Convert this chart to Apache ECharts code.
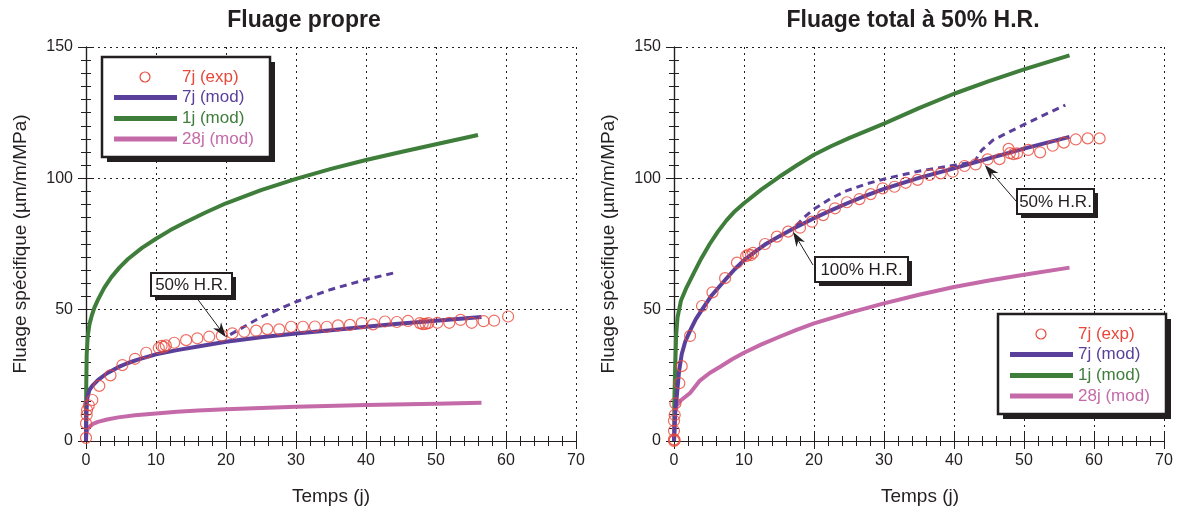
<!DOCTYPE html>
<html><head><meta charset="utf-8">
<script src="https://cdn.jsdelivr.net/npm/echarts@6/dist/echarts.min.js"></script>
<style>html,body{margin:0;padding:0;background:#fff}#c{width:1182px;height:512px}</style>
</head><body><div id="c"></div>
<script>
// ---- data ----
const panelTitles = ['Fluage propre', 'Fluage total à 50% H.R.'];
const xAxisName = 'Temps (j)';
const yAxisName = 'Fluage spécifique (µm/m/MPa)';
const seriesNames = ['7j (exp)', '7j (mod)', '1j (mod)', '28j (mod)'];
const xMin = 0, xMax = 70, xStep = 10;
const yMin = 0, yMax = 150, yStep = 50;

const leftExp7j = [[0,1.2],[0,6.7],[0.1,9.9],[0.15,11.8],[0.4,13.6],[0.9,15.6],[1.9,21],[3.5,25],[5.2,28.9],[7,31.3],[8.6,33.6],[10.4,35.4],[10.8,36.2],[11.1,35.8],[11.4,36.4],[12.6,37.4],[14.3,38.4],[15.9,39.1],[17.6,39.7],[19.4,40.1],[20.9,41],[22.6,41.6],[24.3,42],[25.9,42.6],[27.6,42.5],[29.3,43.5],[31,43.5],[32.7,43.6],[34.4,43.5],[36,44],[37.7,44.2],[39.4,44.9],[41,44.4],[42.7,45.5],[44.4,45.3],[46,45.7],[47.7,44.9],[48.1,44.5],[48.5,44.6],[48.9,44.9],[50.2,45],[51.9,45],[53.5,46.1],[55.1,45],[56.8,45.6],[58.3,45.8],[60.3,47.4]];
const leftMod7j = [[0,0],[0.05,10],[0.15,16],[0.5,19.5],[1,21.3],[1.7,23.2],[3,25.8],[4.6,28.1],[6,29.7],[7.4,31],[10,33],[13,34.6],[16,36],[20,37.8],[25,39.5],[30,40.9],[35,42.2],[40,43.5],[45,44.7],[50,45.8],[56.5,47.2]];
const leftMod7jHR50 = [[20.6,40.5],[25,47.2],[30,53],[35,57.7],[40,61.5],[44,64]];
const leftMod1j = [[0,0],[0.03,20],[0.1,33],[0.25,40],[0.5,44.5],[0.8,47.5],[1.2,50.8],[1.7,53.7],[2.6,58.3],[3.6,62.3],[4.8,66.1],[6,69.3],[8,73.5],[10,77],[12,80.2],[14,83],[17,86.9],[20,90.5],[25,95.5],[30,99.8],[35,103.6],[40,107],[45,110],[50,113],[56,116.5]];
const leftMod28j = [[0,0],[0.05,3],[0.3,5],[1,6.5],[1.7,7.3],[3,8.2],[4.6,9],[7,9.8],[10,10.5],[13,11.1],[16,11.6],[20,12.1],[25,12.6],[30,13],[40,13.7],[50,14.2],[56.5,14.6]];

const rightExp7j = [[0,0],[0,0.6],[0.1,0.3],[0,3.9],[0,7.7],[0.1,9.9],[0.2,14.3],[0.76,22],[1.1,28.5],[2.3,40],[4,51.4],[5.5,56.6],[7.3,62],[9,67.9],[10.3,70.4],[10.6,71],[11,70.8],[11.3,71.6],[13,75],[14.7,77.8],[16.3,79.7],[18,81.2],[19.7,83.5],[21.3,86],[23,88.6],[24.7,90.9],[26.5,92.1],[28.1,94],[29.8,96.2],[31.5,96.8],[33.1,98.3],[34.8,99.4],[36.5,101.3],[38.1,101.9],[39.8,102.5],[41.5,104.7],[43.1,105.3],[44.8,107.2],[46.5,107.3],[47.8,111.2],[48,109.6],[48.5,109.2],[49,109.5],[50.6,110.8],[52.3,109.9],[54.1,112.4],[55.7,113.6],[57.4,114.8],[59.1,115.2],[60.8,115.2]];
const rightMod7j = [[0,0],[0.1,6],[0.2,12],[0.4,17],[0.7,26],[1.1,33],[1.6,37.8],[2.3,42],[3.1,46.3],[4,50],[5.4,55.5],[7.3,61.3],[8.6,65.2],[10,68.8],[11.5,71.9],[13,74.8],[15,77.9],[17,80.8],[20,84.8],[22.5,87.9],[25,90.8],[27.5,93.5],[30,96],[35,100.2],[40,103.8],[45,107.6],[50,111.3],[56.5,115.8]];
const rightMod7jHR = [[17.5,82],[18.5,85],[20,88.3],[22.3,92.2],[24.7,95.3],[27.5,97.9],[30.4,100],[35.1,102.8],[40.9,105.4],[43,106.4],[43.5,109],[44,110.8],[45.6,114.6],[50.4,121],[55.9,127.9]];
const rightMod1j = [[0,0],[0.05,15],[0.14,25],[0.3,40],[0.5,47],[1,53.5],[1.8,58.5],[2.8,63.8],[3.9,69.5],[5.1,75],[6.3,79.8],[7.5,84],[8.7,87.5],[10,90.5],[12.5,95.8],[15,100.5],[17.5,104.9],[20,109],[22.5,112.3],[25,115.3],[27.5,118.1],[30,120.8],[35,126.7],[40,132.2],[45,137],[50,141.5],[56.5,146.8]];
const rightMod28j = [[0,0],[0.05,5],[0.15,11],[0.4,13.5],[1,15.5],[2.3,18.3],[3.7,23],[5.1,25.9],[6.6,28.3],[8.3,31.1],[10,33.6],[12.5,36.8],[15,39.6],[17.5,42.3],[20,44.8],[25,48.8],[30,52.4],[35,55.7],[40,58.6],[45,61.1],[50,63.3],[56.5,66]];

// annotations: label and the data point its arrow points at
const annotations = [
  {grid: 0, text: '50% H.R.',  tip: [20, 39.5]},
  {grid: 1, text: '100% H.R.', tip: [17, 79.7]},
  {grid: 1, text: '50% H.R.',  tip: [44.4, 105.1]}
];

// ---- styles ----
const FONT = '"Liberation Sans", Arial, Helvetica, sans-serif';
const DARK = '#231f20';
const C_RED = '#e8483b', C_BLUE = '#5a3f9b', C_GREEN = '#3f7d3b', C_PINK = '#c56aa8';
const seriesColors = [C_RED, C_BLUE, C_GREEN, C_PINK];

const grids = [
  {left: 86, top: 47, width: 490, height: 394},
  {left: 674, top: 47, width: 490, height: 394}
];

function xAx(gi, pos, main) {
  return {
    type: 'value', gridIndex: gi, position: pos, min: xMin, max: xMax, interval: xStep,
    axisLine: {show: true, lineStyle: {color: DARK, width: 1.2}},
    axisTick: {show: true, inside: true, length: 8, lineStyle: {color: DARK, width: 1}},
    minorTick: {show: true, splitNumber: 5, length: 5, lineStyle: {color: DARK, width: 1}},
    axisLabel: {show: main, margin: 12, fontSize: 16, color: DARK, fontFamily: FONT},
    splitLine: {show: main, lineStyle: {color: DARK, width: 1, type: [2, 4]}}
  };
}
function yAx(gi, pos, main) {
  return {
    type: 'value', gridIndex: gi, position: pos, min: yMin, max: yMax, interval: yStep,
    axisLine: {show: true, lineStyle: {color: DARK, width: 1.2}},
    axisTick: {show: true, inside: true, length: 8, lineStyle: {color: DARK, width: 1}},
    minorTick: {show: true, splitNumber: 10, length: 5, lineStyle: {color: DARK, width: 1}},
    axisLabel: {show: main, margin: 13, fontSize: 16, color: DARK, fontFamily: FONT},
    splitLine: {show: main, lineStyle: {color: DARK, width: 1, type: [2, 4]}}
  };
}

function lineSeries(name, data, gi, color, dashed) {
  return {
    name: name, type: 'line', data: data, xAxisIndex: gi * 2, yAxisIndex: gi * 2,
    showSymbol: false, smooth: false, silent: true,
    lineStyle: {color: color, width: dashed ? 3 : 4, type: dashed ? [7, 5] : 'solid', cap: 'butt', join: 'round'},
    itemStyle: {color: color}, z: 3
  };
}
function expSeries(name, data, gi) {
  return {
    name: name, type: 'scatter', data: data, xAxisIndex: gi * 2, yAxisIndex: gi * 2,
    symbol: 'circle', symbolSize: 11, silent: true,
    itemStyle: {color: 'rgba(0,0,0,0)', borderColor: C_RED, borderWidth: 1.2}, z: 4
  };
}

const chart = echarts.init(document.getElementById('c'), null, {renderer: 'canvas'});
chart.setOption({
  animation: false,
  backgroundColor: '#fff',
  grid: grids,
  xAxis: [xAx(0, 'bottom', true), xAx(0, 'top', false), xAx(1, 'bottom', true), xAx(1, 'top', false)],
  yAxis: [yAx(0, 'left', true), yAx(0, 'right', false), yAx(1, 'left', true), yAx(1, 'right', false)],
  series: [
    lineSeries(seriesNames[2], leftMod1j, 0, C_GREEN),
    lineSeries(seriesNames[3], leftMod28j, 0, C_PINK),
    lineSeries(seriesNames[1], leftMod7j, 0, C_BLUE),
    lineSeries(seriesNames[1] + ' HR', leftMod7jHR50, 0, C_BLUE, true),
    expSeries(seriesNames[0], leftExp7j, 0),
    lineSeries(seriesNames[2], rightMod1j, 1, C_GREEN),
    lineSeries(seriesNames[3], rightMod28j, 1, C_PINK),
    lineSeries(seriesNames[1], rightMod7j, 1, C_BLUE),
    lineSeries(seriesNames[1] + ' HR', rightMod7jHR, 1, C_BLUE, true),
    expSeries(seriesNames[0], rightExp7j, 1)
  ]
});

// ---- decorations: titles, axis names, legends, annotation boxes ----
const g = [];
function txt(x, y, s, opt) {
  g.push({type: 'text', x: x, y: y, z: 100, rotation: opt.rot || 0,
    style: {text: s, fill: opt.color || DARK, font: (opt.bold ? 'bold ' : '') + opt.size + 'px ' + FONT,
      textAlign: opt.align || 'center', textVerticalAlign: 'middle'}});
}
const titleCenters = [[304, 21], [913, 21]];
const xNameCenters = [[331, 497], [920, 497]];
const yNameCenters = [[21, 244], [609, 244]];
for (let i = 0; i < 2; i++) {
  txt(titleCenters[i][0], titleCenters[i][1], panelTitles[i], {size: 23, bold: true});
  txt(xNameCenters[i][0], xNameCenters[i][1], xAxisName, {size: 19});
  txt(yNameCenters[i][0], yNameCenters[i][1], yAxisName, {size: 19, rot: Math.PI / 2});
}

function shadowBox(x, y, w, h, off, lw) {
  g.push({type: 'rect', z: 90, shape: {x: x + off, y: y + off, width: w, height: h}, style: {fill: DARK}});
  g.push({type: 'rect', z: 91, shape: {x: x, y: y, width: w, height: h}, style: {fill: '#fff', stroke: DARK, lineWidth: lw}});
}
function legend(x, y) {
  shadowBox(x, y, 168, 100, 5, 2.5);
  const rows = [20, 40.5, 61.5, 82];
  for (let i = 0; i < 4; i++) {
    const ry = y + rows[i];
    if (i === 0) {
      g.push({type: 'circle', z: 95, shape: {cx: x + 43, cy: ry, r: 5}, style: {fill: 'none', stroke: seriesColors[0], lineWidth: 1.2}});
    } else {
      g.push({type: 'line', z: 95, shape: {x1: x + 12, y1: ry, x2: x + 75, y2: ry}, style: {stroke: seriesColors[i], lineWidth: 5}});
    }
    txt(x + 80, ry, seriesNames[i], {size: 17, color: seriesColors[i], align: 'left'});
  }
}
legend(102, 57);
legend(998, 314);

const annBoxes = [
  {x: 151, y: 273, w: 81, h: 23, from: [196, 297]},
  {x: 815, y: 257, w: 93, h: 25, from: [813, 265]},
  {x: 1017, y: 189, w: 77, h: 25, from: [1016, 201]}
];
annotations.forEach(function (a, i) {
  const b = annBoxes[i];
  shadowBox(b.x, b.y, b.w, b.h, 4, 2);
  txt(b.x + b.w / 2, b.y + b.h / 2 + 1, a.text, {size: 17});
  const tip = chart.convertToPixel({xAxisIndex: a.grid * 2, yAxisIndex: a.grid * 2}, a.tip);
  const fx = b.from[0], fy = b.from[1];
  const dx = tip[0] - fx, dy = tip[1] - fy, L = Math.sqrt(dx * dx + dy * dy);
  const ux = dx / L, uy = dy / L, nx = -uy, ny = ux;
  const HL = 15, HW = 5;
  g.push({type: 'line', z: 96, shape: {x1: fx, y1: fy, x2: tip[0] - ux * 10, y2: tip[1] - uy * 10}, style: {stroke: DARK, lineWidth: 1}});
  g.push({type: 'polygon', z: 97, shape: {points: [
    [tip[0], tip[1]],
    [tip[0] - ux * HL + nx * HW, tip[1] - uy * HL + ny * HW],
    [tip[0] - ux * HL * 0.7, tip[1] - uy * HL * 0.7],
    [tip[0] - ux * HL - nx * HW, tip[1] - uy * HL - ny * HW]
  ]}, style: {fill: DARK}});
});

chart.setOption({graphic: {elements: g}});
</script>
</body></html>
